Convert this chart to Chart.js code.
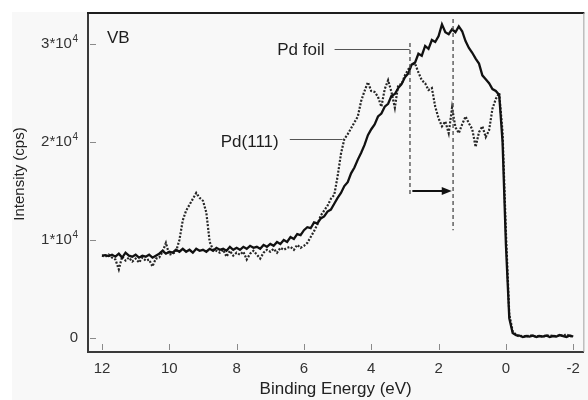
<!DOCTYPE html>
<html>
<head>
<meta charset="utf-8">
<title>VB spectra</title>
<script src="https://cdn.jsdelivr.net/npm/chart.js@4.4.1/dist/chart.umd.min.js"></script>
<style>
  html, body { margin: 0; padding: 0; background: #fff; }
  #wrap { width: 588px; height: 400px; }
</style>
</head>
<body>
<div id="wrap"><canvas id="vbChart" width="588" height="400"></canvas></div>
<script>
// binding energy grid (eV), 12 -> -2
const energy = [
  12.0, 11.9, 11.8, 11.7, 11.6, 11.5, 11.4, 11.3, 11.2, 11.1,
  11.0, 10.9, 10.8, 10.7, 10.6, 10.5, 10.4, 10.3, 10.2, 10.1,
  10.0, 9.9, 9.8, 9.7, 9.6, 9.5, 9.4, 9.3, 9.2, 9.1,
  9.0, 8.9, 8.8, 8.7, 8.6, 8.5, 8.4, 8.3, 8.2, 8.1,
  8.0, 7.9, 7.8, 7.7, 7.6, 7.5, 7.4, 7.3, 7.2, 7.1,
  7.0, 6.9, 6.8, 6.7, 6.6, 6.5, 6.4, 6.3, 6.2, 6.1,
  6.0, 5.9, 5.8, 5.7, 5.6, 5.5, 5.4, 5.3, 5.2, 5.1,
  5.0, 4.9, 4.8, 4.7, 4.6, 4.5, 4.4, 4.3, 4.2, 4.1,
  4.0, 3.9, 3.8, 3.7, 3.6, 3.5, 3.4, 3.3, 3.2, 3.1,
  3.0, 2.9, 2.8, 2.7, 2.6, 2.5, 2.4, 2.3, 2.2, 2.1,
  2.0, 1.9, 1.8, 1.7, 1.6, 1.5, 1.4, 1.3, 1.2, 1.1,
  1.0, 0.9, 0.8, 0.7, 0.6, 0.5, 0.4, 0.3, 0.2, 0.1,
  0.0, -0.1, -0.2, -0.3, -0.4, -0.5, -0.6, -0.7, -0.8, -0.9,
  -1.0, -1.1, -1.2, -1.3, -1.4, -1.5, -1.6, -1.7, -1.8, -1.9,
  -2.0
];

// intensity (cps), solid curve
const pdFoil = [
  8400, 8450, 8350, 8500, 8300, 8600, 8200, 8700, 8400, 8300,
  8500, 8200, 8400, 8300, 8500, 8200, 8400, 8600, 8900, 8600,
  8800, 8700, 9000, 8800, 9100, 8800, 9000, 8700, 9100, 8900,
  9000, 8800, 9100, 8900, 9200, 9000, 9100, 8900, 9300, 9000,
  9200, 9000, 9300, 9100, 9400, 9200, 9300, 9100, 9500, 9300,
  9600, 9400, 9800, 9600, 10000, 9800, 10300, 10100, 10600, 10500,
  11000, 11300, 11200, 11800, 11700, 12200, 12400, 12900, 13100, 13700,
  14300, 14800, 15500, 15900, 16800, 17400, 18200, 18900, 19700, 20700,
  21300, 21800, 22600, 22900, 23600, 23900, 24700, 24900, 25500, 25900,
  26600, 27000, 27900, 28100, 29000, 28800, 29800, 29500, 30400, 30200,
  30800, 32000, 31200, 31000, 31500, 31200, 31800, 31300, 30300, 29600,
  29100, 28500, 28000, 26800, 26400, 26000, 25400, 25200, 24800, 20000,
  9500, 2000, 500, 300, 250, 100, 200, 150, 250, 100,
  200, 150, 250, 100, 200, 150, 300, 200, 100, 250,
  150
];

// intensity (cps), dotted curve
const pd111 = [
  8400, 8300, 8500, 8200, 8000, 7000, 8300, 7900, 8200, 7800,
  8100, 7700, 8200, 7900, 8000, 7300, 8100, 8200, 8800, 9700,
  8500, 8600, 8800, 10000, 12000, 13000, 13600, 14200, 14800, 14300,
  14000, 12800, 9800, 9000, 8900, 8700, 9000, 8300, 8900, 8400,
  8700, 8500, 8800, 8000, 8600, 8900, 8500, 8100, 8700, 9000,
  8800, 9100, 8700, 9200, 9000, 9200, 9300, 9000, 9500, 9200,
  9400, 9700, 10300, 10900, 11600, 12500, 13000, 13500, 14200, 14600,
  16500, 18800, 20300, 20800, 21400, 22000, 22600, 24200, 25200, 26100,
  25200, 25100, 24600, 23600, 25400, 26300, 25100, 23500, 25800, 25900,
  26800, 27400, 27900, 28000, 27100, 26300, 26000, 25300, 25500, 23600,
  22400, 21600, 22100, 20900, 23500, 21500, 20900, 21800, 22600, 21900,
  21300, 19500, 21000, 21600, 20500, 21200, 23400, 24400, 25000, 21000,
  10800, 2400, 700, 300, 150, 250, 100, 300, 200, 150,
  250, 100, 300, 200, 250, 150, 300, 200, 400, 150,
  200
];

const xTicks = [12, 10, 8, 6, 4, 2, 0, -2];
const yTicks = [0, 10000, 20000, 30000];
const yTickBase = ['0', '1*10', '2*10', '3*10'];
const yTickExp = ['', '4', '4', '4'];

// peak shift marked with dashed lines (eV)
const shiftFrom = 2.85;
const shiftTo = 1.57;

const FONT = '"Liberation Sans", Arial, Helvetica, sans-serif';

const frameAndNotes = {
    id: 'frameAndNotes',
    beforeDraw(chart) {
        const { ctx, width, height } = chart;
        ctx.save();
        ctx.fillStyle = '#ffffff';
        ctx.fillRect(0, 0, width, height);
        ctx.fillStyle = '#f8f8f8';
        ctx.fillRect(12, 12, width - 12, height - 12);
        ctx.restore();
    },
    afterDraw(chart) {
        const { ctx, chartArea: a, scales: { x, y } } = chart;
        const px = (v) => x.getPixelForValue(v);
        const py = (v) => y.getPixelForValue(v);

        ctx.save();

        // top and right frame
        ctx.strokeStyle = '#1e1e1e';
        ctx.lineWidth = 2;
        ctx.beginPath();
        ctx.moveTo(a.left - 1, a.top);
        ctx.lineTo(a.right + 1, a.top);
        ctx.stroke();
        ctx.strokeStyle = '#a0a0a0';
        ctx.lineWidth = 1;
        ctx.beginPath();
        ctx.moveTo(a.right + 0.5, a.top);
        ctx.lineTo(a.right + 0.5, a.bottom);
        ctx.stroke();

        // inward tick marks
        ctx.strokeStyle = '#8a8a8a';
        ctx.beginPath();
        yTicks.forEach(v => {
            const yy = Math.round(py(v)) + 0.5;
            ctx.moveTo(a.left + 2, yy);
            ctx.lineTo(a.left + 8, yy);
        });
        xTicks.forEach(v => {
            const xx = Math.round(px(v)) + 0.5;
            ctx.moveTo(xx, a.bottom - 2);
            ctx.lineTo(xx, a.bottom - 8);
        });
        ctx.stroke();

        // y tick labels with raised exponent
        ctx.fillStyle = '#333';
        ctx.textBaseline = 'middle';
        ctx.textAlign = 'left';
        yTicks.forEach((v, i) => {
            const yy = py(v);
            ctx.font = '15px ' + FONT;
            const wBase = ctx.measureText(yTickBase[i]).width;
            ctx.font = '10px ' + FONT;
            const wExp = yTickExp[i] ? ctx.measureText(yTickExp[i]).width + 0.5 : 0;
            const x0 = a.left - 10 - wBase - wExp;
            ctx.font = '15px ' + FONT;
            ctx.fillText(yTickBase[i], x0, yy);
            if (yTickExp[i]) {
                ctx.font = '10px ' + FONT;
                ctx.fillText(yTickExp[i], x0 + wBase + 0.5, yy - 5);
            }
        });

        // y axis title
        ctx.save();
        ctx.translate(19.5, 174);
        ctx.rotate(-Math.PI / 2);
        ctx.fillStyle = '#222';
        ctx.font = '15px ' + FONT;
        ctx.textAlign = 'center';
        ctx.textBaseline = 'middle';
        ctx.fillText('Intensity (cps)', 0, 0);
        ctx.restore();

        // labels
        ctx.fillStyle = '#1e1e1e';
        ctx.font = '17px ' + FONT;
        ctx.textBaseline = 'middle';
        ctx.textAlign = 'left';
        ctx.fillText('VB', px(11.85), py(30600));
        ctx.textAlign = 'right';
        ctx.fillText('Pd foil', px(5.39), py(29400));
        ctx.fillText('Pd(111)', px(6.75), py(20000));

        // leader lines
        ctx.strokeStyle = '#555';
        ctx.lineWidth = 1;
        ctx.beginPath();
        ctx.moveTo(px(5.09), Math.round(py(29450)) + 0.5);
        ctx.lineTo(px(2.86), Math.round(py(29450)) + 0.5);
        ctx.moveTo(px(6.42), Math.round(py(20300)) + 0.5);
        ctx.lineTo(px(4.85), Math.round(py(20300)) + 0.5);
        ctx.stroke();

        // dashed peak markers
        ctx.strokeStyle = '#4a4a4a';
        ctx.lineWidth = 1.3;
        ctx.setLineDash([4, 3]);
        ctx.beginPath();
        ctx.moveTo(px(shiftFrom), py(30100));
        ctx.lineTo(px(shiftFrom), py(14600));
        ctx.moveTo(px(shiftTo), py(32550));
        ctx.lineTo(px(shiftTo), py(11000));
        ctx.stroke();
        ctx.setLineDash([]);

        // shift arrow
        const ay = py(15000);
        const ax0 = px(shiftFrom - 0.07);
        const ax1 = px(shiftTo + 0.04);
        ctx.strokeStyle = '#111';
        ctx.fillStyle = '#111';
        ctx.lineWidth = 2;
        ctx.beginPath();
        ctx.moveTo(ax0, ay);
        ctx.lineTo(ax1 - 8, ay);
        ctx.stroke();
        ctx.beginPath();
        ctx.moveTo(ax1, ay);
        ctx.lineTo(ax1 - 10, ay - 4);
        ctx.lineTo(ax1 - 10, ay + 4);
        ctx.closePath();
        ctx.fill();

        ctx.restore();
    }
};

new Chart(document.getElementById('vbChart'), {
    type: 'line',
    data: {
        datasets: [
            {
                label: 'Pd foil',
                data: energy.map((e, i) => ({ x: e, y: pdFoil[i] })),
                borderColor: '#111',
                borderWidth: 2.3,
                pointRadius: 0,
                tension: 0
            },
            {
                label: 'Pd(111)',
                data: energy.map((e, i) => ({ x: e, y: pd111[i] })),
                borderColor: '#262626',
                borderWidth: 2.2,
                borderDash: [2, 1.6],
                pointRadius: 0,
                tension: 0
            }
        ]
    },
    options: {
        responsive: false,
        animation: false,
        events: [],
        layout: { padding: { top: 13, right: 4, left: 0, bottom: 0 } },
        plugins: {
            legend: { display: false },
            tooltip: { enabled: false }
        },
        scales: {
            x: {
                type: 'linear',
                reverse: true,
                min: -2.30,
                max: 12.415,
                afterBuildTicks: (scale) => { scale.ticks = xTicks.map(v => ({ value: v })); },
                afterFit: (scale) => { scale.height = 48; },
                grid: { drawOnChartArea: false, drawTicks: false, color: 'transparent' },
                border: { color: '#3a3a3a', width: 2 },
                ticks: {
                    color: '#333',
                    padding: 8,
                    maxRotation: 0,
                    font: { family: FONT, size: 15 },
                    callback: (v) => String(v)
                },
                title: {
                    display: true,
                    text: 'Binding Energy (eV)',
                    color: '#222',
                    font: { family: FONT, size: 17 },
                    padding: { top: 0, bottom: 0 }
                }
            },
            y: {
                type: 'linear',
                min: -1430,
                max: 33160,
                afterBuildTicks: (scale) => { scale.ticks = yTicks.map(v => ({ value: v })); },
                afterFit: (scale) => { scale.width = 88; },
                grid: { drawOnChartArea: false, drawTicks: false, color: 'transparent' },
                border: { color: '#3a3a3a', width: 2 },
                ticks: { display: false },
                title: { display: false }
            }
        }
    },
    plugins: [frameAndNotes]
});
</script>
</body>
</html>
